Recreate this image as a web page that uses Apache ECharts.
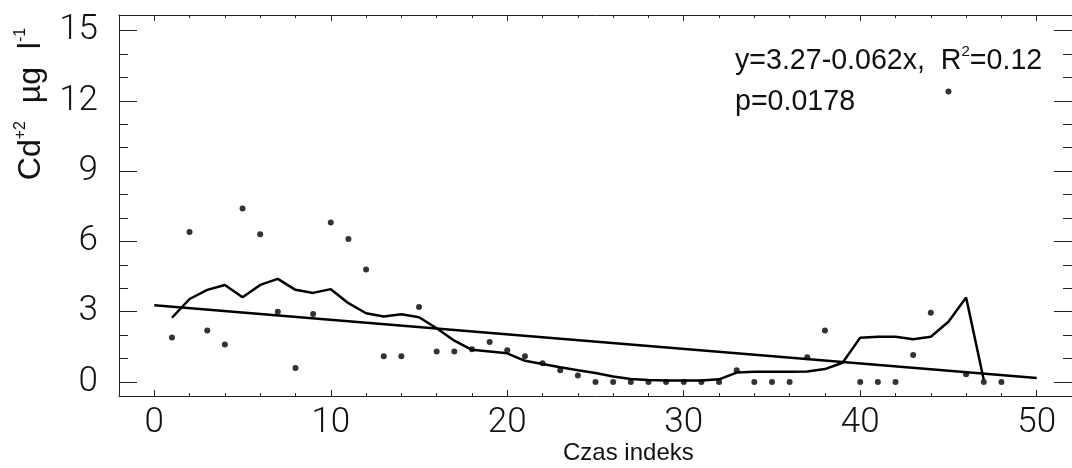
<!DOCTYPE html>
<html>
<head>
<meta charset="utf-8">
<script src="https://cdn.jsdelivr.net/npm/echarts@6/dist/echarts.min.js"></script>
<style>
html,body{margin:0;padding:0;background:#fff;}
#c{width:1072px;height:468px;}
</style>
</head>
<body>
<div id="c"></div>
<script>
// ---- data ----
const pointX = [1,2,3,4,5,6,7,8,9,10,11,12,13,14,15,16,17,18,19,20,21,22,23,24,25,26,27,28,29,30,31,32,33,34,35,36,37,38,40,41,42,43,44,45,46,47,48];
const pointY = [1.9,6.4,2.2,1.6,7.4,6.3,3.0,0.6,2.9,6.8,6.1,4.8,1.1,1.1,3.2,1.3,1.3,1.4,1.7,1.35,1.1,0.8,0.5,0.27,0,0,0,0,0,0,0,0,0.5,0,0,0,1.05,2.2,0,0,0,1.15,2.95,12.4,0.33,0,0];
const smoothX = [1,2,3,4,5,6,7,8,9,10,11,12,13,14,15,16,17,18,19,20,21,22,23,24,25,26,27,28,29,30,31,32,33,34,35,36,37,38,39,40,41,42,43,44,45,46,47];
const smoothY = [2.74,3.54,3.93,4.14,3.61,4.14,4.40,3.93,3.80,3.96,3.36,2.93,2.79,2.89,2.76,2.29,1.76,1.37,1.30,1.22,0.90,0.77,0.63,0.50,0.38,0.23,0.13,0.085,0.06,0.06,0.06,0.11,0.40,0.43,0.43,0.43,0.45,0.55,0.82,1.89,1.93,1.93,1.82,1.93,2.57,3.60,0.09];
const trendX = [0, 50];
const trendY = [3.27, 0.17];
const xMajorTicks = [0,10,20,30,40,50];
const xMinorTicks = [2,4,6,8,12,14,16,18,22,24,26,28,32,34,36,38,42,44,46,48];
const yMajorTicks = [0,3,6,9,12,15];
const yMinorTicks = [1,2,4,5,7,8,10,11,13,14];
const xName = 'Czas indeks';
const eqText = ['y=3.27-0.062x,  R', '2', '=0.12'];
const pText = 'p=0.0178';

const X_MIN = -2, X_MAX = 52, Y_MIN = -0.6, Y_MAX = 15.66;
const tickFont = "Roboto, 'Liberation Sans', sans-serif";
const textFont = "'Liberation Sans', Arial, sans-serif";
const axisCol = '#222';

function xAx(pos, major, labels) {
  return {
    type: 'value', position: pos, min: X_MIN, max: X_MAX,
    axisLine: { show: major, onZero: false, lineStyle: { color: axisCol, width: 1 } },
    axisTick: { show: true, inside: true, length: major ? 6 : 3, lineStyle: { color: axisCol, width: 1 },
      customValues: major ? xMajorTicks : xMinorTicks },
    axisLabel: labels ? { show: true, customValues: xMajorTicks, margin: 10, color: '#111',
      fontFamily: tickFont, fontWeight: 300, fontSize: 35, lineHeight: 35 } : { show: false },
    splitLine: { show: false }
  };
}
function yAx(pos, major, labels) {
  return {
    type: 'value', position: pos, min: Y_MIN, max: Y_MAX,
    axisLine: { show: major, onZero: false, lineStyle: { color: axisCol, width: 1 } },
    axisTick: { show: true, inside: true, length: major ? 18 : 9, lineStyle: { color: axisCol, width: 1 },
      customValues: major ? yMajorTicks : yMinorTicks },
    axisLabel: labels ? { show: true, customValues: yMajorTicks, margin: 21, color: '#111',
      fontFamily: tickFont, fontWeight: 300, fontSize: 35 } : { show: false },
    splitLine: { show: false }
  };
}

const chart = echarts.init(document.getElementById('c'), null, { renderer: 'canvas' });
chart.setOption({
  animation: false,
  backgroundColor: '#fff',
  grid: { left: 119, right: -7, top: 15, bottom: 72, containLabel: false },
  xAxis: [xAx('bottom', true, true), xAx('bottom', false, false), xAx('top', true, false), xAx('top', false, false)],
  yAxis: [yAx('left', true, true), yAx('left', false, false), yAx('right', true, false), yAx('right', false, false)],
  series: [
    { type: 'scatter', xAxisIndex: 0, yAxisIndex: 0, symbol: 'circle', symbolSize: 6,
      itemStyle: { color: '#000' }, data: pointX.map((x, i) => [x, pointY[i]]), z: 5 },
    { type: 'line', xAxisIndex: 0, yAxisIndex: 0, showSymbol: false, symbol: 'none',
      lineStyle: { color: '#000', width: 2.5 }, data: smoothX.map((x, i) => [x, smoothY[i]]) },
    { type: 'line', xAxisIndex: 0, yAxisIndex: 0, showSymbol: false, symbol: 'none',
      lineStyle: { color: '#000', width: 2.5 }, data: trendX.map((x, i) => [x, trendY[i]]) }
  ],
  graphic: [
    { type: 'text', x: 30, y: 104, rotation: Math.PI / 2,
      style: { text: '{a|Cd}{s|+2}{a|  µg  l}{s|-1}', align: 'center', verticalAlign: 'middle', fill: '#111',
        rich: { a: { fontFamily: textFont, fontSize: 32, lineHeight: 34, verticalAlign: 'bottom' },
                s: { fontFamily: textFont, fontSize: 16, lineHeight: 34, verticalAlign: 'top' } } } },
    { type: 'text', x: 735, y: 44,
      style: { text: '{a|' + eqText[0] + '}{s|' + eqText[1] + '}{a|' + eqText[2] + '}', align: 'left', verticalAlign: 'top', fill: '#111',
        rich: { a: { fontFamily: textFont, fontSize: 28.6, lineHeight: 32, verticalAlign: 'bottom' },
                s: { fontFamily: textFont, fontSize: 15, lineHeight: 32, verticalAlign: 'top' } } } },
    { type: 'text', x: 735, y: 88,
      style: { text: pText, align: 'left', verticalAlign: 'top', fill: '#111',
        font: "28.6px 'Liberation Sans', Arial, sans-serif" } },
    { type: 'text', x: 563, y: 441,
      style: { text: xName, align: 'left', verticalAlign: 'top', fill: '#111',
        font: "24px 'Liberation Sans', Arial, sans-serif" } }
  ]
});
</script>
</body>
</html>
